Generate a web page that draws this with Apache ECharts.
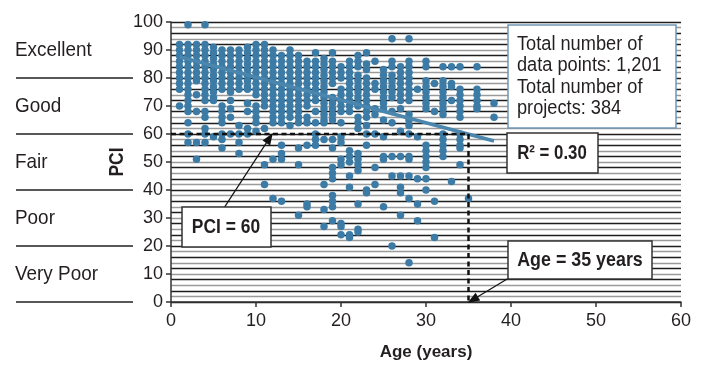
<!DOCTYPE html>
<html>
<head>
<meta charset="utf-8">
<script src="https://cdn.jsdelivr.net/npm/echarts@6/dist/echarts.min.js"></script>
<style>
  html, body { margin: 0; padding: 0; background: #fff; }
  #main { width: 701px; height: 368px; }
</style>
</head>
<body>
<div id="main"></div>
<script>
// ages (years) that have data, and the PCI readings stacked in each age column
const ageColumns = [1, 2, 3, 4, 5, 6, 7, 8, 9, 10, 11, 12, 13, 14, 15, 16, 17, 18, 19, 20,
  21, 22, 23, 24, 25, 26, 27, 28, 29, 30, 31, 32, 33, 34, 35, 36, 38];
const pciColumns = [
  [92, 90, 88, 86, 84, 82, 80, 78, 76, 70],
  [99, 92, 90, 88, 86, 84, 82, 80, 78, 76, 74, 72, 70, 68, 64, 60, 57],
  [92, 90, 88, 86, 84, 82, 80, 79, 74, 68, 57, 51],
  [99, 92, 90, 88, 86, 84, 82, 80, 78, 76, 74, 72, 68, 66, 62, 60, 57],
  [91, 89, 87, 85, 83, 81, 79, 77, 75, 73, 72, 59],
  [90, 88, 86, 84, 82, 80, 78, 76, 70, 68, 66, 64, 60, 58, 55],
  [90, 88, 86, 84, 82, 80, 78, 76, 75, 72, 69, 66, 60],
  [90, 88, 86, 84, 82, 80, 78, 76, 63, 60, 57, 53],
  [91, 89, 87, 85, 83, 81, 79, 77, 76, 71, 68, 62, 60],
  [92, 90, 88, 86, 84, 82, 80, 78, 76, 74, 70, 68, 66, 64, 61],
  [92, 90, 88, 86, 84, 82, 80, 78, 76, 74, 72, 70, 62, 49, 42],
  [90, 88, 86, 84, 82, 80, 78, 76, 74, 72, 70, 68, 66, 64, 51, 37],
  [88, 86, 84, 82, 80, 78, 76, 74, 72, 70, 68, 66, 64, 56, 53, 51, 36],
  [90, 88, 86, 84, 82, 80, 78, 76, 74, 72, 70, 68, 66, 63],
  [88, 86, 84, 82, 80, 78, 76, 74, 72, 70, 68, 66, 64, 55, 49, 31],
  [86, 84, 82, 80, 78, 76, 74, 72, 70, 66, 64, 56, 35, 34],
  [89, 86, 84, 82, 80, 78, 76, 74, 72, 68, 64, 60, 58, 56],
  [87, 85, 83, 81, 79, 77, 75, 73, 71, 69, 67, 65, 64, 58, 42, 33, 27],
  [89, 86, 84, 82, 80, 78, 73, 71, 69, 67, 65, 58, 55, 48, 46, 44, 38, 36, 34, 29],
  [84, 82, 80, 76, 74, 72, 70, 68, 64, 59, 57, 51, 49, 28, 27, 24],
  [86, 84, 82, 80, 78, 76, 74, 72, 70, 68, 54, 52, 50, 45, 41, 24, 23],
  [88, 86, 84, 81, 79, 77, 75, 73, 71, 70, 66, 64, 62, 53, 51, 49, 47, 35, 26, 25],
  [89, 85, 83, 80, 78, 76, 74, 72, 70, 68, 66, 63, 60, 56, 40, 39],
  [86, 78, 76, 69, 67, 60, 48, 42],
  [83, 81, 79, 77, 75, 73, 71, 69, 65, 59, 52, 51, 34],
  [94, 86, 84, 81, 79, 77, 75, 73, 68, 64, 52, 45, 20],
  [84, 82, 80, 78, 76, 74, 72, 69, 61, 52, 45, 41, 39, 31],
  [94, 86, 84, 82, 80, 78, 76, 74, 72, 67, 65, 63, 60, 52, 51, 45, 37, 14],
  [76, 59, 44, 35, 29],
  [86, 84, 79, 77, 75, 73, 71, 69, 56, 54, 52, 50, 48, 44, 40],
  [78, 68, 36, 23],
  [84, 79, 77, 75, 73, 71, 69, 67, 60, 58, 56, 54, 52],
  [84, 78, 77, 72, 43],
  [84, 76, 74, 72, 70, 68, 66, 60, 58, 56, 55, 49],
  [37],
  [84, 76, 74, 72, 70, 69],
  [71, 66]
];

// linear trend (R² = 0.30)
const trendAge = [1, 38];
const trendPci = [87.6, 57.5];

// reference thresholds
const pciThreshold = 60;
const ageThreshold = 35;

// condition bands on the left
const conditionLabels = ["Excellent", "Good", "Fair", "Poor", "Very Poor"];
const conditionBounds = [100, 80, 60, 40, 20, 0];

// annotation texts
const statsText = "Total number of\ndata points: 1,201\nTotal number of\nprojects: 384";
const r2Text = "R\u00b2 = 0.30";
const pciNote = "PCI = 60";
const ageNote = "Age = 35 years";

const FONT = "'Liberation Sans', Arial, sans-serif";
const INK = "#231f20";
const DOT = "#3c7ba5";

const points = [];
ageColumns.forEach((age, i) => {
  pciColumns[i].forEach((v) => points.push([age, v]));
});

const chart = echarts.init(document.getElementById("main"));

chart.setOption({
  animation: false,
  backgroundColor: "#fff",
  textStyle: { fontFamily: FONT, color: INK },
  grid: { left: 171, right: 20, top: 22, bottom: 66 },
  xAxis: {
    type: "value",
    min: 0,
    max: 60,
    interval: 10,
    name: "Age (years)",
    nameLocation: "middle",
    nameGap: 42,
    nameTextStyle: { fontFamily: FONT, fontSize: 17, fontWeight: "bold", color: INK },
    axisLine: { lineStyle: { color: "#333", width: 1.5 } },
    axisTick: { length: 5, lineStyle: { color: "#333", width: 1.5 } },
    axisLabel: { fontFamily: FONT, fontSize: 18, color: INK, margin: 10 },
    splitLine: { show: false },
  },
  yAxis: [
    {
      type: "value",
      min: 0,
      max: 100,
      interval: 10,
      axisLine: { show: true, lineStyle: { color: "#333", width: 1.5 } },
      axisTick: { show: true, length: 5, lineStyle: { color: "#333", width: 1.5 } },
      axisLabel: { fontFamily: FONT, fontSize: 18, color: INK, margin: 8 },
      splitLine: { show: false },
    },
    {
      // only here to draw the dense horizontal ruling
      type: "value",
      min: 0,
      max: 100,
      interval: 2,
      position: "left",
      axisLine: { show: false },
      axisTick: { show: false },
      axisLabel: { show: false },
      splitLine: { show: true, lineStyle: { color: ["#1e1e1e", "#9a9a9a"], width: 1.4 } },
    },
  ],
  series: [
    {
      type: "scatter",
      data: points,
      symbolSize: 7.5,
      itemStyle: { color: DOT, opacity: 1 },
      z: 2,
    },
    {
      type: "line",
      data: trendAge.map((a, i) => [a, trendPci[i]]),
      showSymbol: false,
      lineStyle: { color: "#4a86ae", width: 3.5 },
      z: 3,
    },
    {
      type: "line",
      data: [[0, pciThreshold], [ageThreshold, pciThreshold], [ageThreshold, 0]],
      showSymbol: false,
      lineStyle: { color: "#111", width: 2.5, type: [5, 3.5] },
      z: 4,
      markLine: {
        silent: true,
        symbol: ["none", "triangle"],
        symbolSize: [9, 12],
        label: { show: false },
        lineStyle: { color: "#111", width: 1.2, type: "solid" },
        data: [
          [{ coord: [6.3, 33.9] }, { coord: [11.6, 58.6] }],
          [{ coord: [39.6, 8.3] }, { coord: [35.5, 0.8] }],
        ],
      },
    },
  ],
});

// left-hand condition bands, placed on the PCI scale
const graphics = [];
conditionBounds.slice(1).forEach((b) => {
  const y = chart.convertToPixel({ yAxisIndex: 0 }, b);
  graphics.push({
    type: "line",
    shape: { x1: 16, y1: y, x2: 133, y2: y },
    style: { stroke: "#231f20", lineWidth: 1.3 },
  });
});
conditionLabels.forEach((label, i) => {
  const mid = (conditionBounds[i] + conditionBounds[i + 1]) / 2;
  const y = chart.convertToPixel({ yAxisIndex: 0 }, mid);
  graphics.push({
    type: "text",
    x: 15,
    y: y,
    scaleX: 0.9,
    style: { text: label, font: "21px " + FONT, fill: INK, verticalAlign: "middle", align: "left" },
  });
});

graphics.push({
  type: "text",
  x: 117,
  y: 162,
  rotation: Math.PI / 2,
  scaleX: 0.87,
  style: { text: "PCI", font: "bold 20px " + FONT, fill: INK, align: "center", verticalAlign: "middle" },
});

function box(x, y, w, h, text, opts) {
  graphics.push({
    type: "rect",
    shape: { x: x, y: y, width: w, height: h },
    style: { fill: "#fff", stroke: opts.stroke || "#333", lineWidth: 1.5 },
    z: 20,
  });
  graphics.push({
    type: "text",
    x: opts.tx,
    y: opts.ty,
    scaleX: opts.sx,
    style: {
      text: text,
      font: opts.font,
      fill: INK,
      align: opts.align || "center",
      verticalAlign: opts.va || "middle",
      lineHeight: opts.lh || 20,
    },
    z: 21,
  });
}

box(508, 25, 168, 103, statsText, {
  stroke: "#6f98b8", tx: 517, ty: 34, align: "left", va: "top", lh: 21.3, sx: 0.91, font: "20px " + FONT,
});
box(507, 133, 91, 40, r2Text, { tx: 552, ty: 153, sx: 0.8, font: "bold 21px " + FONT });
box(182, 207, 89, 40, pciNote, { tx: 226, ty: 227, sx: 0.83, font: "bold 21px " + FONT });
box(508, 241, 144, 38, ageNote, { tx: 580, ty: 260, sx: 0.85, font: "bold 21px " + FONT });

chart.setOption({ graphic: graphics });
</script>
</body>
</html>
